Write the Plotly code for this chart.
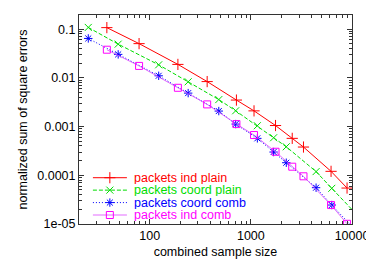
import plotly.graph_objects as go

# sample sizes
x_ind = [37.7, 78.5, 190, 370, 720, 1075, 1754, 2565, 3313, 6208, 8935]
x_coord = [24.7, 48.8, 122.7, 240, 482, 708, 1159, 1679, 2240, 4415, 6310, 13100]

# normalized sum of square errors
y_ind_plain = [0.1074, 0.0504, 0.01888, 0.00838, 0.00350, 0.00210, 0.00105,
               5.73e-4, 3.80e-4, 1.205e-4, 5.47e-5]
y_coord_plain = [0.1084, 0.0492, 0.01853, 0.0083, 0.00358, 0.00211, 0.00104,
                 5.89e-4, 3.85e-4, 1.19e-4, 5.40e-5, 1.1e-5]
y_coord_comb = [0.0644, 0.0303, 0.01102, 0.00486, 0.00208, 0.001125, 5.73e-4,
                3.00e-4, 1.81e-4, 5.56e-5, 2.45e-5, 4.9e-6]
y_ind_comb = [0.0378, 0.01758, 0.00625, 0.00285, 0.001125, 6.70e-4, 3.04e-4,
              1.50e-4, 9.53e-5, 2.45e-5, 1.01e-5]

names = ["packets ind plain", "packets coord plain", "packets coord comb", "packets ind comb"]
x_ticks = [100, 1000, 10000]
x_ticktext = ["100", "1000", "10000"]
y_ticks = [1e-5, 1e-4, 1e-3, 1e-2, 1e-1]
y_ticktext = ["1e-05", "0.0001", "0.001", "0.01", "0.1"]

FONT = "Liberation Sans, Arial, Helvetica, sans-serif"
FS = 12.5

styles = [
    dict(lc="#ff0000", mc="#ff0000", dash="solid", sym="cross-thin", sz=8),
    dict(lc="#00dd00", mc="#00dd00", dash="4px,2px", sym="x-thin", sz=7),
    dict(lc="#0000ff", mc="#0000ff", dash="1px,2px", sym="asterisk-open", sz=7),
    dict(lc="rgba(220,70,255,0.8)", mc="#ff00ff", dash="solid", sym="square-open", sz=7),
]
data = [(x_ind, y_ind_plain), (x_coord, y_coord_plain), (x_coord, y_coord_comb), (x_ind, y_ind_comb)]

fig = go.Figure()
for (xs, ys), nm, st in zip(data, names, styles):
    fig.add_trace(go.Scatter(
        x=xs, y=ys, mode="lines+markers", name=nm, showlegend=False,
        line=dict(color=st["lc"], width=1, dash=st["dash"]),
        marker=dict(symbol=st["sym"], size=st["sz"], color=st["mc"],
                    line=dict(color=st["mc"], width=1)),
        cliponaxis=True,
    ))

# custom compact legend (gnuplot style key) on an overlay axis spanning [0,1]
key_top = 0.2215
key_step = 0.0595
key_x0, key_x1, key_xm, key_xt = 0.051, 0.1755, 0.113, 0.197
for i, (nm, st) in enumerate(zip(names, styles)):
    ky = key_top - i * key_step
    fig.add_trace(go.Scatter(
        x=[key_x0, key_x1], y=[ky, ky], mode="lines", showlegend=False,
        xaxis="x2", yaxis="y2", hoverinfo="skip",
        line=dict(color=st["lc"], width=1, dash=st["dash"]),
    ))
    fig.add_trace(go.Scatter(
        x=[key_xm], y=[ky], mode="markers", showlegend=False,
        xaxis="x2", yaxis="y2", hoverinfo="skip",
        marker=dict(symbol=st["sym"], size=st["sz"], color=st["mc"],
                    line=dict(color=st["mc"], width=1)),
    ))
    fig.add_annotation(
        x=key_xt, y=ky, xref="paper", yref="paper", text=nm, showarrow=False,
        xanchor="left", yanchor="middle", height=12, valign="middle", borderpad=0,
        font=dict(family=FONT, size=FS, color=st["mc"]),
    )

axis_common = dict(
    showline=True, linecolor="#333333", linewidth=1, mirror="allticks",
    ticks="inside", ticklen=5, tickcolor="#333333", tickwidth=1,
    showgrid=False, zeroline=False, automargin=False,
    tickfont=dict(family=FONT, size=FS, color="#000000"),
)

fig.update_layout(
    xaxis=dict(
        type="log", range=[1.30103, 4.0],
        tickvals=x_ticks, ticktext=x_ticktext,
        title=dict(text="combined sample size", font=dict(family=FONT, size=FS, color="#000"), standoff=5),
        minor=dict(ticks="inside", ticklen=3, tickcolor="#333333", dtick="D1", showgrid=False),
        **axis_common,
    ),
    yaxis=dict(
        type="log", range=[-5.0, -0.71],
        tickvals=y_ticks, ticktext=y_ticktext,
        title=dict(text="normalized sum of square errors", font=dict(family=FONT, size=FS, color="#000"), standoff=6),
        minor=dict(ticks="inside", ticklen=3, tickcolor="#333333", dtick="D1", showgrid=False),
        **axis_common,
    ),
    xaxis2=dict(overlaying="x", range=[0, 1], visible=False, fixedrange=True),
    yaxis2=dict(overlaying="y", range=[0, 1], visible=False, fixedrange=True),
    width=374, height=262,
    margin=dict(l=71, r=29.5, t=7, b=46),
    plot_bgcolor="white", paper_bgcolor="white",
    font=dict(family=FONT, size=FS),
    showlegend=False,
)

fig.write_html("out.html")
